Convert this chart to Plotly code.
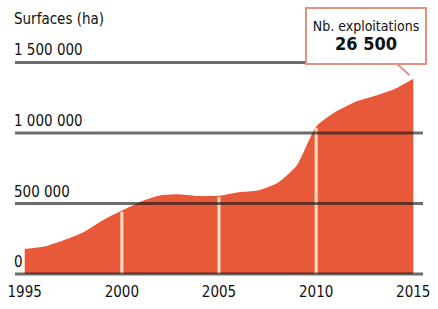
import plotly.graph_objects as go

years = list(range(1995, 2016))
surfaces = [178000, 195000, 240000, 295000, 380000, 450000, 515000, 558000, 565000, 553000,
            555000, 580000, 592000, 645000, 770000, 1045000, 1150000, 1220000, 1262000, 1310000, 1385000]
y_ticks = [0, 500000, 1000000, 1500000]
y_tick_labels = ["0", "500 000", "1 000 000", "1 500 000"]
x_ticks = [1995, 2000, 2005, 2010, 2015]
marker_years = [2000, 2005, 2010]
y_title = "Surfaces (ha)"
callout_title = "Nb. exploitations"
callout_value = "26 500"

FONT = "Liberation Sans Narrow, DejaVu Sans Condensed, Arial Narrow, sans-serif"
AREA = "#E8593A"

fig = go.Figure()
fig.add_trace(go.Scatter(
    x=years, y=surfaces, mode="lines", fill="tozeroy",
    fillcolor=AREA, line=dict(color=AREA, width=0, shape="spline", smoothing=0.6),
    hoverinfo="skip", showlegend=False))

shapes = []
for yr in marker_years:
    v = surfaces[years.index(yr)]
    shapes.append(dict(type="line", xref="x", yref="y", x0=yr, x1=yr, y0=0, y1=v - 8000,
                       line=dict(color="#F9DCC4", width=3), layer="above"))
for t in y_ticks:
    shapes.append(dict(type="line", xref="paper", yref="y", x0=0, x1=1, y0=t, y1=t,
                       line=dict(color="rgba(20,20,20,0.62)", width=3), layer="above"))

annotations = []
for t, lab in zip(y_ticks, y_tick_labels):
    annotations.append(dict(xref="paper", yref="y", x=0, y=t, text=lab, showarrow=False,
                            xanchor="left", yanchor="bottom", yshift=1, xshift=-3,
                            font=dict(family=FONT, size=15, color="#111")))
annotations.append(dict(xref="paper", yref="paper", x=0, y=1, text=y_title, showarrow=False,
                        xanchor="left", yanchor="bottom", yshift=20, xshift=-3,
                        font=dict(family=FONT, size=15, color="#111")))
annotations.append(dict(xref="x", yref="y", x=years[-1], y=surfaces[-1],
                        text=callout_title + "<br><span style='font-size:18px'><b>"
                             + callout_value + "</b></span>",
                        showarrow=True, arrowhead=0, arrowwidth=2, arrowcolor="#E4917E",
                        ax=-47, ay=-43, standoff=5,
                        bgcolor="white", bordercolor="#E4917E", borderwidth=2, borderpad=2,
                        width=114, height=50,
                        font=dict(family=FONT, size=14, color="#111")))

fig.update_layout(
    width=438, height=309,
    margin=dict(l=12, r=8, t=50, b=23),
    paper_bgcolor="white", plot_bgcolor="white",
    shapes=shapes, annotations=annotations,
    font=dict(family=FONT, size=15, color="#111"),
    xaxis=dict(range=[1994.5, 2015.5], tickvals=x_ticks, ticktext=[str(v) for v in x_ticks],
               showgrid=False, zeroline=False, showline=False, ticks="",
               ticklabelstandoff=4,
               tickfont=dict(family=FONT, size=15, color="#111"), fixedrange=True),
    yaxis=dict(range=[-20450, 1588000], showgrid=False, zeroline=False, showline=False,
               showticklabels=False, ticks="", fixedrange=True),
)

fig.write_html("out.html", config={"displayModeBar": False, "staticPlot": True},
               post_script="document.body.style.margin='0';document.body.style.padding='0';"
                           "document.body.style.overflow='hidden';")
